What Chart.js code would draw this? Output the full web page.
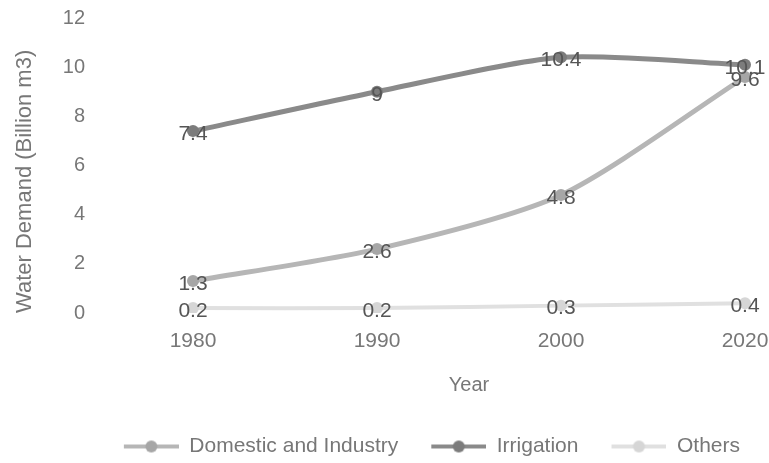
<!DOCTYPE html>
<html>
<head>
<meta charset="utf-8">
<script src="https://cdn.jsdelivr.net/npm/chart.js@4.4.1/dist/chart.umd.min.js"></script>
<style>
  html, body { margin: 0; padding: 0; background: #fff; }
  #wrap { width: 769px; height: 463px; }
</style>
</head>
<body>
<div id="wrap"><canvas id="chart" width="769" height="463"></canvas></div>
<script>
const years = ['1980', '1990', '2000', '2020'];
const domestic = [1.3, 2.6, 4.8, 9.6];
const irrigation = [7.4, 9, 10.4, 10.1];
const others = [0.2, 0.2, 0.3, 0.4];
const yTicks = [0, 2, 4, 6, 8, 10, 12];

const FONT = 'Liberation Sans, Arial, sans-serif';
const SWATCH_W = 78;
const SWATCH_LINE = 55;

// legend swatch: a line with a dot in the middle, drawn at the right of the box
// (the empty left part works as the gap between legend items)
function legendSwatch(lineColor, dotColor) {
  const c = document.createElement('canvas');
  c.width = SWATCH_W;
  c.height = 16;
  const g = c.getContext('2d');
  const x0 = SWATCH_W - SWATCH_LINE;
  g.strokeStyle = lineColor;
  g.lineWidth = 4;
  g.beginPath();
  g.moveTo(x0, 8);
  g.lineTo(SWATCH_W, 8);
  g.stroke();
  g.fillStyle = dotColor;
  g.beginPath();
  g.arc(x0 + SWATCH_LINE / 2, 8, 6, 0, Math.PI * 2);
  g.fill();
  return c;
}

const series = [
  { label: 'Domestic and Industry', data: domestic, line: '#b6b6b6', dot: '#a6a6a6', width: 5 },
  { label: 'Irrigation', data: irrigation, line: '#8a8a8a', dot: '#7c7c7c', width: 5 },
  { label: 'Others', data: others, line: '#e0e0e0', dot: '#d6d6d6', width: 4 }
];

// draw the values centered on each point
const valueLabels = {
  id: 'valueLabels',
  afterDatasetsDraw(chart) {
    const ctx = chart.ctx;
    ctx.save();
    ctx.font = '21px ' + FONT;
    ctx.fillStyle = '#555';
    ctx.textAlign = 'center';
    ctx.textBaseline = 'middle';
    chart.data.datasets.forEach((ds, i) => {
      const meta = chart.getDatasetMeta(i);
      meta.data.forEach((pt, j) => {
        ctx.fillText(String(ds.data[j]), pt.x, pt.y + 3);
      });
    });
    ctx.restore();
  }
};

new Chart(document.getElementById('chart'), {
  type: 'line',
  data: {
    labels: years,
    datasets: series.map(s => ({
      label: s.label,
      data: s.data,
      borderColor: s.line,
      backgroundColor: s.dot,
      borderWidth: s.width,
      pointRadius: 6,
      pointBackgroundColor: s.dot,
      pointBorderWidth: 0,
      tension: 0.25,
      fill: false
    }))
  },
  options: {
    responsive: false,
    animation: false,
    layout: { padding: { left: 10, right: 19, top: 18, bottom: -4 } },
    plugins: {
      tooltip: { enabled: false },
      legend: {
        position: 'bottom',
        align: 'end',
        labels: {
          usePointStyle: true,
          pointStyleWidth: SWATCH_W,
          padding: 10,
          color: '#777',
          font: { family: FONT, size: 21, lineHeight: 1 },
          generateLabels: chart => series.map((s, i) => ({
            text: s.label,
            pointStyle: legendSwatch(s.line, s.dot),
            fillStyle: s.dot,
            strokeStyle: s.line,
            lineWidth: 0,
            fontColor: '#777',
            hidden: false,
            datasetIndex: i
          }))
        }
      }
    },
    scales: {
      x: {
        offset: false,
        afterFit: axis => { axis.height = 113; axis.paddingLeft = 10; axis.paddingRight = 24; },
        grid: { display: false, drawTicks: false },
        border: { display: false },
        ticks: { color: '#777', padding: 16, maxRotation: 0, font: { family: FONT, size: 21 } },
        title: {
          display: true,
          text: 'Year',
          color: '#777',
          padding: { top: 18, bottom: 29 },
          font: { family: FONT, size: 20 }
        }
      },
      y: {
        min: 0,
        max: 12,
        afterBuildTicks: axis => { axis.ticks = yTicks.map(v => ({ value: v })); },
        afterFit: axis => { axis.width = 183; axis.paddingTop = 10; axis.paddingBottom = 10; },
        grid: { display: false, drawTicks: false },
        border: { display: false },
        ticks: { color: '#777', padding: 108, font: { family: FONT, size: 20 } },
        title: {
          display: true,
          text: 'Water Demand (Billion m3)',
          color: '#777',
          align: 'start',
          padding: { top: 2, bottom: 0 },
          font: { family: FONT, size: 22 }
        }
      }
    }
  },
  plugins: [valueLabels]
});
</script>
</body>
</html>
